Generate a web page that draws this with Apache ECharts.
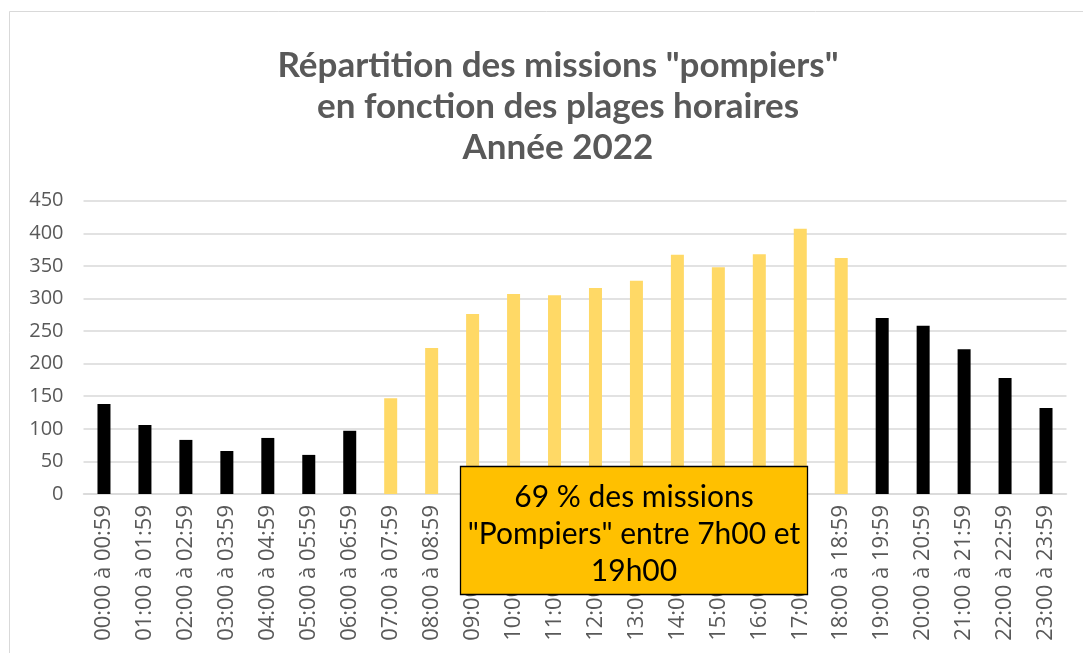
<!DOCTYPE html>
<html>
<head>
<meta charset="utf-8">
<script src="https://cdn.jsdelivr.net/npm/echarts@6/dist/echarts.min.js"></script>
<style>
  html, body { margin: 0; padding: 0; background: #fff; }
  #chart { width: 1083px; height: 653px; }
</style>
</head>
<body>
<div id="chart"></div>
<script>
// Hourly time slots
const categories = [
  '00:00 à 00:59', '01:00 à 01:59', '02:00 à 02:59', '03:00 à 03:59',
  '04:00 à 04:59', '05:00 à 05:59', '06:00 à 06:59', '07:00 à 07:59',
  '08:00 à 08:59', '09:00 à 09:59', '10:00 à 10:59', '11:00 à 11:59',
  '12:00 à 12:59', '13:00 à 13:59', '14:00 à 14:59', '15:00 à 15:59',
  '16:00 à 16:59', '17:00 à 17:59', '18:00 à 18:59', '19:00 à 19:59',
  '20:00 à 20:59', '21:00 à 21:59', '22:00 à 22:59', '23:00 à 23:59'
];

// Number of "pompiers" missions per time slot
const missions = [
  138, 106, 83, 66, 86, 60, 97, 147,
  224, 276, 307, 305, 316, 327, 367, 348,
  368, 407, 362, 270, 258, 222, 178, 132
];

// Daytime window (07:00 - 18:59) shown in gold
const dayStartHour = 7;
const dayEndHour = 18;

const yTicks = { min: 0, max: 450, interval: 50 };

const titleLines = [
  'Répartition des missions "pompiers"',
  'en fonction des plages horaires',
  'Année 2022'
];
const noteLines = ['69 % des missions', '"Pompiers" entre 7h00 et', '19h00'];

const DAY_COLOR = '#FFD966';
const NIGHT_COLOR = '#000000';
const TEXT_GREY = '#595959';

const barData = missions.map(function (v, i) {
  const hour = parseInt(categories[i].slice(0, 2), 10);
  const isDay = hour >= dayStartHour && hour <= dayEndHour;
  return { value: v, itemStyle: { color: isDay ? DAY_COLOR : NIGHT_COLOR } };
});

const chart = echarts.init(document.getElementById('chart'), null, { renderer: 'canvas' });

chart.setOption({
  backgroundColor: '#ffffff',
  animation: false,
  title: {
    text: titleLines.join('\n'),
    left: 553,
    textAlign: 'center',
    top: 40,
    textStyle: {
      fontFamily: 'Lato',
      fontWeight: 'bold',
      fontSize: 35,
      lineHeight: 41,
      color: TEXT_GREY
    }
  },
  grid: {
    left: 83.5,
    right: 16.5,
    top: 200.7,
    bottom: 159,
    containLabel: false
  },
  xAxis: {
    type: 'category',
    data: categories,
    axisTick: { show: false },
    axisLine: { lineStyle: { color: '#D9D9D9', width: 1.5 } },
    axisLabel: {
      interval: 0,
      rotate: 90,
      margin: 11,
      color: TEXT_GREY,
      fontFamily: 'Open Sans',
      fontSize: 22
    }
  },
  yAxis: {
    type: 'value',
    min: yTicks.min,
    max: yTicks.max,
    interval: yTicks.interval,
    axisLine: { show: false },
    axisTick: { show: false },
    splitLine: { lineStyle: { color: '#D9D9D9', width: 1.5 } },
    axisLabel: {
      margin: 20,
      color: TEXT_GREY,
      fontFamily: 'Open Sans',
      fontSize: 20
    }
  },
  series: [{
    type: 'bar',
    data: barData,
    barWidth: 13
  }],
  graphic: [
    {
      type: 'rect',
      z: 0,
      silent: true,
      shape: { x: 9.5, y: 11.5, width: 1200, height: 800 },
      style: { fill: 'none', stroke: '#D9D9D9', lineWidth: 1 }
    },
    {
      type: 'rect',
      zlevel: 2,
      z: 100,
      silent: true,
      shape: { x: 460.5, y: 466.5, width: 347, height: 128 },
      style: { fill: '#FFC000', stroke: '#000000', lineWidth: 1.3 }
    },
    {
      type: 'text',
      zlevel: 2,
      z: 101,
      silent: true,
      x: 634,
      y: 534,
      style: {
        text: noteLines.join('\n'),
        align: 'center',
        verticalAlign: 'middle',
        fontFamily: 'Lato',
        fontSize: 30,
        lineHeight: 37,
        fill: '#000000'
      }
    }
  ]
});
</script>
</body>
</html>
